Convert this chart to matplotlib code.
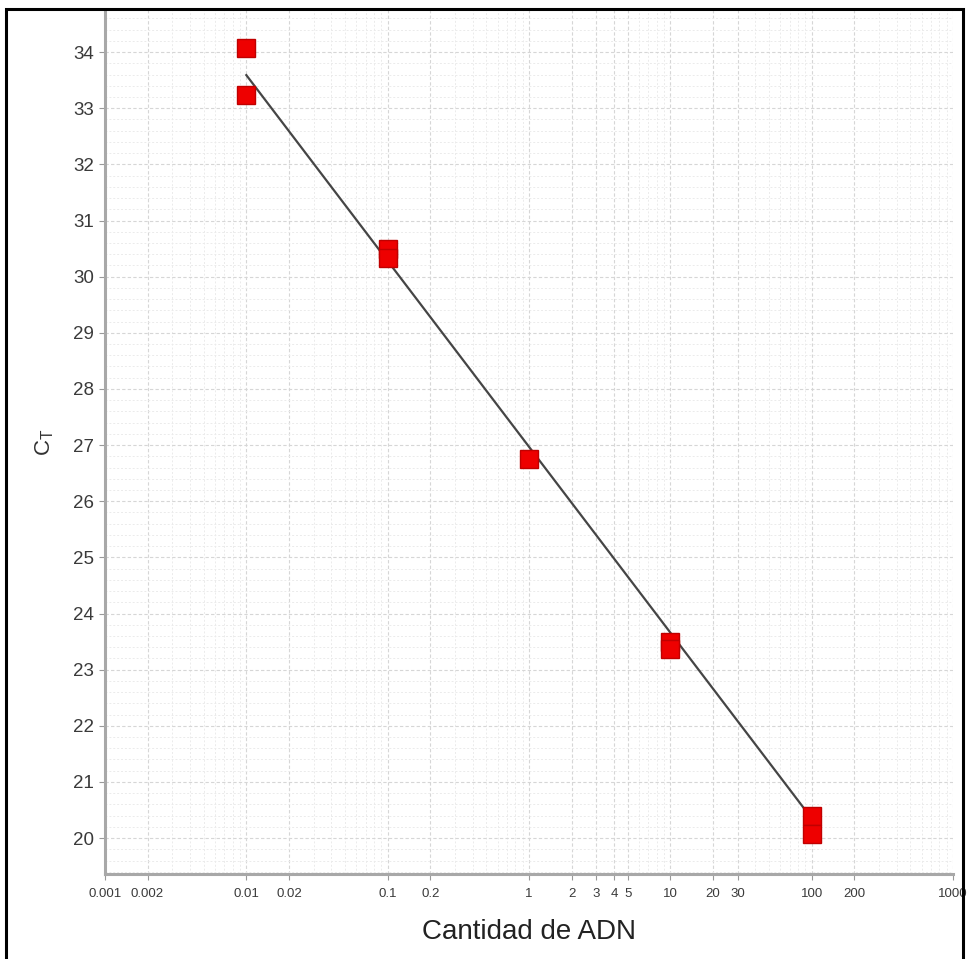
import numpy as np
import matplotlib
matplotlib.use("Agg")
import matplotlib.pyplot as plt
from matplotlib.patches import Rectangle

plt.rcParams['font.family'] = ['Liberation Sans', 'DejaVu Sans']

# cantidad de ADN (escala log) y valores Ct
cantidad = [0.01, 0.01, 0.1, 0.1, 1, 10, 10, 100, 100]
ct = [34.07, 33.23, 30.49, 30.33, 26.76, 23.50, 23.36, 20.39, 20.07]

# recta de calibracion: Ct = pendiente*log10(x) + intercepto
pendiente = -3.31
intercepto = 26.97
rango_recta = [0.01, 100]

x_ticks = [0.001, 0.002, 0.01, 0.02, 0.1, 0.2, 1, 2, 3, 4, 5, 10, 20, 30, 100, 200, 1000]
x_labels = ['0.001', '0.002', '0.01', '0.02', '0.1', '0.2', '1', '2', '3', '4', '5',
            '10', '20', '30', '100', '200', '1000']
y_ticks = list(range(20, 35))

x_fit = np.array(rango_recta)
y_fit = pendiente * np.log10(x_fit) + intercepto

fig = plt.figure(figsize=(9.71, 9.59), dpi=100)
ax = fig.add_axes([105 / 971, 1 - 874 / 959, 848 / 971, 864 / 959])

# marco negro exterior
fig.patches.append(Rectangle((6 / 971, -0.05), 957 / 971, 1.05 - 9 / 959,
                             transform=fig.transFigure, fill=False,
                             edgecolor='black', linewidth=2.2))

ax.set_xscale('log')
ax.set_xlim(0.001, 1000)
ax.set_ylim(19.36, 34.75)

# rejilla
minor_x = [m * 10.0 ** e for e in range(-3, 3) for m in range(2, 10)]
ax.set_xticks(minor_x, minor=True)
ax.set_xticks(x_ticks)
ax.set_xticklabels(x_labels, fontsize=9.5, color='#3a3a3a')
ax.set_yticks(y_ticks)
ax.set_yticks(np.arange(19.4, 34.8, 0.2), minor=True)
ax.tick_params(axis='y', labelsize=13.5, labelcolor='#3a3a3a', length=4,
               color='#999999', pad=4)
ax.tick_params(axis='x', length=4, color='#999999', pad=6)
ax.tick_params(which='minor', length=0)
ax.tick_params(axis='x', which='minor', labelbottom=False)

ax.grid(True, which='major', color='#d6d6d6', linestyle=(0, (3, 2)), linewidth=0.8)
ax.grid(True, which='minor', color='#ebebeb', linestyle=(0, (2, 2)), linewidth=0.7)
ax.set_axisbelow(True)

for s in ['top', 'right']:
    ax.spines[s].set_visible(False)
for s in ['left', 'bottom']:
    ax.spines[s].set_color('#a8a8a8')
    ax.spines[s].set_linewidth(2.2)

ax.plot(x_fit, y_fit, color='#454545', linewidth=1.6, zorder=3)
ax.plot(cantidad, ct, linestyle='none', marker='s', markersize=12.5,
        markerfacecolor='#ee0000', markeredgecolor='#c00000',
        markeredgewidth=1, zorder=4)

ax.set_xlabel('Cantidad de ADN', fontsize=20, color='#222222', labelpad=14)
ax.set_ylabel('C$_\\mathregular{T}$', fontsize=16, color='#333333', labelpad=12)

fig.savefig('out.png', dpi=100)
